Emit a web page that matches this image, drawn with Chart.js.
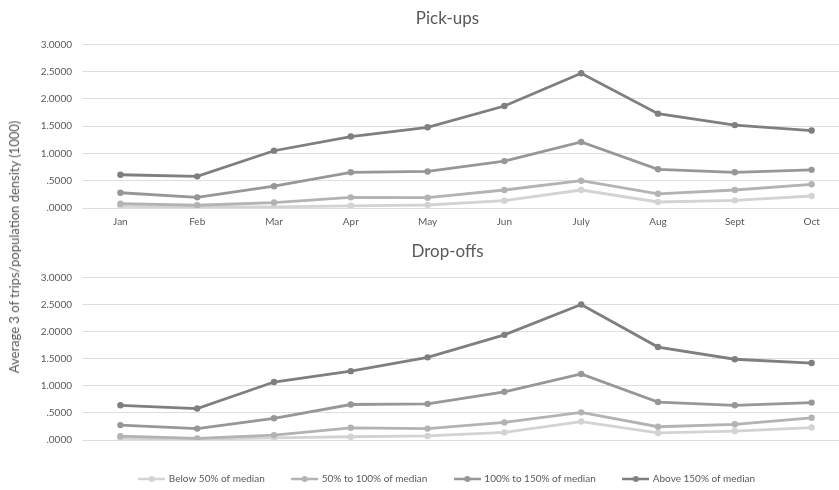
<!DOCTYPE html>
<html>
<head>
<meta charset="utf-8">
<script src="https://cdn.jsdelivr.net/npm/chart.js@4/dist/chart.umd.min.js"></script>
<style>
  html, body { margin: 0; padding: 0; background: #fff; overflow: hidden; }
  #wrap { position: relative; width: 839px; height: 490px; overflow: hidden; background: #fff; }
  #pickups { position: absolute; left: 0; top: 0; }
  #dropoffs { position: absolute; left: 0; top: 233px; }
  #ytitle {
    position: absolute; left: 14px; top: 247px;
    transform: translate(-50%, -50%) rotate(-90deg);
    white-space: nowrap; font: 13px Lato, sans-serif; color: #595959;
  }
</style>
</head>
<body>
<div id="wrap">
  <canvas id="pickups" width="895" height="233"></canvas>
  <canvas id="dropoffs" width="895" height="261"></canvas>
  <div id="ytitle">Average 3 of trips/population density (1000)</div>
</div>
<script>
// Months on the category axis
const months = ['Jan', 'Feb', 'Mar', 'Apr', 'May', 'Jun', 'July', 'Aug', 'Sept', 'Oct'];

// Income groups (relative to median)
const groupNames = ['Below 50% of median', '50% to 100% of median', '100% to 150% of median', 'Above 150% of median'];
const groupColors = ['#d3d3d3', '#b3b3b3', '#979797', '#7f7f7f'];

// Pick-ups per group
const pickBelow50   = [0.03, 0.02, 0.02, 0.04, 0.055, 0.135, 0.33, 0.11, 0.14, 0.22];
const pick50to100   = [0.08, 0.05, 0.10, 0.195, 0.19, 0.33, 0.50, 0.26, 0.33, 0.435];
const pick100to150  = [0.28, 0.195, 0.40, 0.655, 0.67, 0.86, 1.21, 0.71, 0.655, 0.70];
const pickAbove150  = [0.61, 0.58, 1.05, 1.31, 1.48, 1.87, 2.47, 1.73, 1.52, 1.42];

// Drop-offs per group
const dropBelow50   = [0.03, 0.015, 0.04, 0.06, 0.075, 0.14, 0.34, 0.13, 0.165, 0.23];
const drop50to100   = [0.07, 0.03, 0.09, 0.225, 0.21, 0.325, 0.51, 0.245, 0.29, 0.41];
const drop100to150  = [0.275, 0.21, 0.40, 0.655, 0.667, 0.89, 1.22, 0.70, 0.64, 0.69];
const dropAbove150  = [0.64, 0.58, 1.07, 1.27, 1.525, 1.94, 2.50, 1.715, 1.49, 1.42];

// Value axis
const yMin = 0, yMax = 3, yStep = 0.5;

const fontFamily = 'Lato, sans-serif';
const textColor = '#595959';

function fmtTick(v) {
  const s = Number(v).toFixed(4);
  return s.startsWith('0') ? s.slice(1) : s;
}

// Small line-with-dot swatch for the legend
function swatch(color) {
  const c = document.createElement('canvas');
  c.width = 27; c.height = 8;
  const g = c.getContext('2d');
  g.strokeStyle = color; g.lineWidth = 2.5;
  g.beginPath(); g.moveTo(0, 4); g.lineTo(27, 4); g.stroke();
  g.fillStyle = color;
  g.beginPath(); g.arc(13.5, 4, 3, 0, Math.PI * 2); g.fill();
  return c;
}

function makeDatasets(series) {
  return series.map((vals, i) => ({
    label: groupNames[i],
    data: vals,
    borderColor: groupColors[i],
    backgroundColor: groupColors[i],
    pointBackgroundColor: groupColors[i],
    pointBorderColor: groupColors[i],
    borderWidth: 2.8,
    pointRadius: 3.2,
    pointBorderWidth: 0,
    tension: 0,
    order: series.length - i
  }));
}

function makeOptions(titleText, withLegend) {
  return {
    responsive: false,
    animation: false,
    layout: { padding: 0 },
    plugins: {
      title: {
        display: true,
        text: titleText,
        color: textColor,
        font: { family: fontFamily, size: 17, weight: 'normal' },
        padding: { top: 8, bottom: 16 }
      },
      tooltip: { enabled: false },
      legend: withLegend ? {
        display: true,
        position: 'bottom',
        labels: {
          usePointStyle: true,
          pointStyleWidth: 24,
          padding: 28,
          color: textColor,
          font: { family: fontFamily, size: 10 },
          generateLabels: (chart) => chart.data.datasets.map((ds, i) => ({
            text: ds.label,
            fillStyle: ds.borderColor,
            strokeStyle: ds.borderColor,
            fontColor: textColor,
            pointStyle: swatch(ds.borderColor),
            lineWidth: 0,
            hidden: false,
            datasetIndex: i
          }))
        }
      } : { display: false }
    },
    scales: {
      x: {
        type: 'category',
        offset: true,
        grid: { display: false, drawTicks: false },
        border: { display: false },
        ticks: { color: textColor, font: { family: fontFamily, size: 10 }, padding: 8, maxRotation: 0 },
        afterFit: (scale) => { scale.height = withLegend ? 6 : 25; }
      },
      y: {
        min: yMin, max: yMax,
        grid: { color: '#dedede', lineWidth: 1, drawTicks: false },
        border: { display: false },
        ticks: {
          stepSize: yStep,
          color: textColor,
          font: { family: fontFamily, size: 10 },
          padding: 10,
          callback: (v) => fmtTick(v)
        },
        afterFit: (scale) => { scale.width = 82; }
      },
      // empty right-hand margin of the plot area
      yMargin: {
        type: 'linear',
        position: 'right',
        display: true,
        grid: { display: false, drawTicks: false },
        border: { display: false },
        ticks: { display: false },
        afterFit: (scale) => { scale.width = 45; }
      }
    }
  };
}

new Chart(document.getElementById('pickups'), {
  type: 'line',
  data: { labels: months, datasets: makeDatasets([pickBelow50, pick50to100, pick100to150, pickAbove150]) },
  options: makeOptions('Pick-ups', false)
});

new Chart(document.getElementById('dropoffs'), {
  type: 'line',
  data: { labels: months, datasets: makeDatasets([dropBelow50, drop50to100, drop100to150, dropAbove150]) },
  options: makeOptions('Drop-offs', true)
});
</script>
</body>
</html>
